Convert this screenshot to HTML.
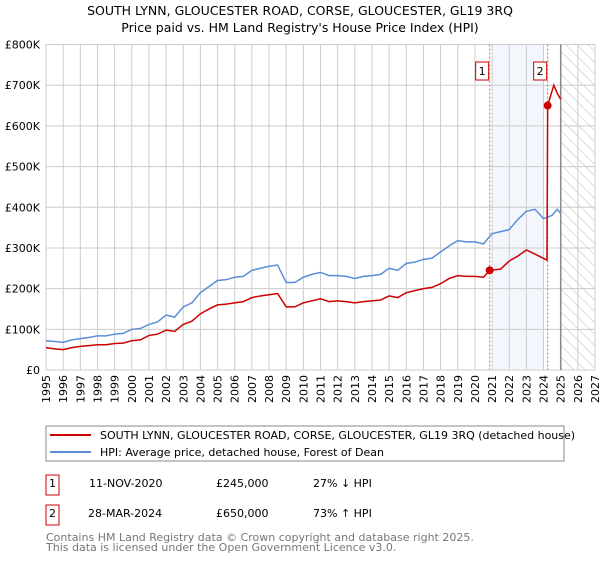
<!DOCTYPE html>
<html><head><meta charset="utf-8"><style>
body{margin:0;background:#fff;font-family:"DejaVu Sans","Liberation Sans",sans-serif;}
svg text{font-family:"DejaVu Sans","Liberation Sans",sans-serif;}
</style></head><body>
<svg width="600" height="560" xmlns="http://www.w3.org/2000/svg">
<defs><pattern id="hatch" width="8" height="8" patternUnits="userSpaceOnUse" patternTransform="rotate(-45)"><line x1="0" y1="0" x2="0" y2="8" stroke="#bbb" stroke-width="1"/></pattern></defs>
<text x="300" y="15" text-anchor="middle" font-size="12.5">SOUTH LYNN, GLOUCESTER ROAD, CORSE, GLOUCESTER, GL19 3RQ</text>
<text x="300" y="32" text-anchor="middle" font-size="12.5">Price paid vs. HM Land Registry's House Price Index (HPI)</text>
<g id="plot"></g>
<rect x="46" y="426" width="518" height="35" fill="none" stroke="#888"/>
<line x1="50" y1="435" x2="91" y2="435" stroke="#cc0000" stroke-width="2"/>
<text x="100" y="439" font-size="11">SOUTH LYNN, GLOUCESTER ROAD, CORSE, GLOUCESTER, GL19 3RQ (detached house)</text>
<line x1="50" y1="452" x2="91" y2="452" stroke="#5b8ed6" stroke-width="2"/>
<text x="100" y="456" font-size="11">HPI: Average price, detached house, Forest of Dean</text>
<g font-size="11">
<rect x="46" y="475" width="13" height="20" fill="none" stroke="#cc0000"/><text x="52.5" y="487" text-anchor="middle">1</text>
<text x="89" y="487">11-NOV-2020</text><text x="216" y="487">£245,000</text><text x="313" y="487">27% ↓ HPI</text></g>
<g font-size="11">
<rect x="46" y="505" width="13" height="20" fill="none" stroke="#cc0000"/><text x="52.5" y="517" text-anchor="middle">2</text>
<text x="88" y="517">28-MAR-2024</text><text x="216" y="517">£650,000</text><text x="313" y="517">73% ↑ HPI</text></g>
<text x="46" y="541" font-size="11" fill="#777">Contains HM Land Registry data © Crown copyright and database right 2025.</text>
<text x="46" y="551" font-size="11" fill="#777">This data is licensed under the Open Government Licence v3.0.</text>
</svg>
<script>
const hpiYears=[1995,1995.5,1996,1996.5,1997,1997.5,1998,1998.5,1999,1999.5,2000,2000.5,2001,2001.5,2002,2002.5,2003,2003.5,2004,2004.5,2005,2005.5,2006,2006.5,2007,2007.5,2008,2008.5,2009,2009.5,2010,2010.5,2011,2011.5,2012,2012.5,2013,2013.5,2014,2014.5,2015,2015.5,2016,2016.5,2017,2017.5,2018,2018.5,2019,2019.5,2020,2020.5,2021,2021.5,2022,2022.5,2023,2023.5,2024,2024.5,2024.8,2025];
const hpiValues=[72,70,68,74,77,80,84,84,88,90,100,102,112,118,135,130,155,165,190,205,220,222,228,230,245,250,255,258,215,215,228,235,240,232,232,230,225,230,232,235,250,245,262,265,272,275,290,305,318,315,315,310,335,340,345,370,390,395,372,380,395,385];
const ppYears=[1995,1995.5,1996,1996.5,1997,1997.5,1998,1998.5,1999,1999.5,2000,2000.5,2001,2001.5,2002,2002.5,2003,2003.5,2004,2004.5,2005,2005.5,2006,2006.5,2007,2007.5,2008,2008.5,2009,2009.5,2010,2010.5,2011,2011.5,2012,2012.5,2013,2013.5,2014,2014.5,2015,2015.5,2016,2016.5,2017,2017.5,2018,2018.5,2019,2019.5,2020,2020.5,2020.86,2021.5,2022,2022.5,2023,2023.5,2024.2,2024.24,2024.6,2024.8,2025];
const ppValues=[55,52,50,55,58,60,62,62,65,66,72,74,85,88,98,95,112,120,138,150,160,162,165,168,178,182,185,188,155,155,165,170,175,168,170,168,165,168,170,172,182,178,190,195,200,203,212,225,232,230,230,228,245,248,268,280,295,285,270,650,700,680,665];
const sales=[{n:"1",year:2020.86,value:245},{n:"2",year:2024.24,value:650}];
const yTicks=[0,100,200,300,400,500,600,700,800];
const yTickLabels=["£0","£100K","£200K","£300K","£400K","£500K","£600K","£700K","£800K"];
const xTicks=[1995,1996,1997,1998,1999,2000,2001,2002,2003,2004,2005,2006,2007,2008,2009,2010,2011,2012,2013,2014,2015,2016,2017,2018,2019,2020,2021,2022,2023,2024,2025,2026,2027];
const X0=46,X1=595,Y0=370,Y1=44.5;
const xs=y=>X0+(y-1995)/(2027-1995)*(X1-X0);
const ys=v=>Y0-v/800*(Y0-Y1);
const NS="http://www.w3.org/2000/svg";
const g=document.getElementById('plot');
function mk(t,a,p){const e=document.createElementNS(NS,t);for(const k in a)e.setAttribute(k,a[k]);(p||g).appendChild(e);return e;}
let e=mk('rect',{x:xs(2021),y:Y1,width:xs(2024)-xs(2021),height:Y0-Y1,fill:'#eef3fc',opacity:0.7});


e=mk('rect',{x:xs(2025),y:Y1,width:X1-xs(2025),height:Y0-Y1,fill:'url(#hatch)'});


xTicks.forEach((t,i)=>{
 let l=mk('line',{x1:xs(t),y1:Y1,x2:xs(t),y2:Y0,stroke:'#ccc','stroke-width':1});
 
 
 let tx=mk('text',{x:0,y:0,'font-size':11,'text-anchor':'end',transform:`translate(${xs(t)+4},${Y0+5}) rotate(-90)`});
 tx.textContent=t;
 
 
});
yTicks.forEach((t,i)=>{
 let l=mk('line',{x1:X0,y1:ys(t),x2:X1,y2:ys(t),stroke:'#ccc','stroke-width':1});
 
 
 let tx=mk('text',{x:X0-6,y:ys(t)+4,'font-size':11,'text-anchor':'end'});
 tx.textContent=yTickLabels[i];
 
 
});
e=mk('line',{x1:xs(2025),y1:Y1,x2:xs(2025),y2:Y0,stroke:'#888','stroke-width':1.5});


sales.forEach(s=>{
 let l=mk('line',{x1:xs(s.year),y1:Y1,x2:xs(s.year),y2:Y0,stroke:'#e06060','stroke-width':1,'stroke-dasharray':'2,2'});
 
 
 let r=mk('rect',{x:xs(s.year)-14,y:62,width:13,height:18,fill:'#fff',stroke:'#cc0000'});
 
 
 let t=mk('text',{x:xs(s.year)-7.5,y:75,'font-size':11,'text-anchor':'middle'});
 t.textContent=s.n;
 
 
});
let p=mk('polyline',{points:hpiYears.map((y,i)=>xs(y)+','+ys(hpiValues[i])).join(' '),fill:'none',stroke:'#5b8ed6','stroke-width':1.5});


p=mk('polyline',{points:ppYears.map((y,i)=>xs(y)+','+ys(ppValues[i])).join(' '),fill:'none',stroke:'#cc0000','stroke-width':1.5});


sales.forEach(s=>{
 let c=mk('circle',{cx:xs(s.year),cy:ys(s.value),r:4,fill:'#cc0000'});
 
 
});
</script>
</body></html>
